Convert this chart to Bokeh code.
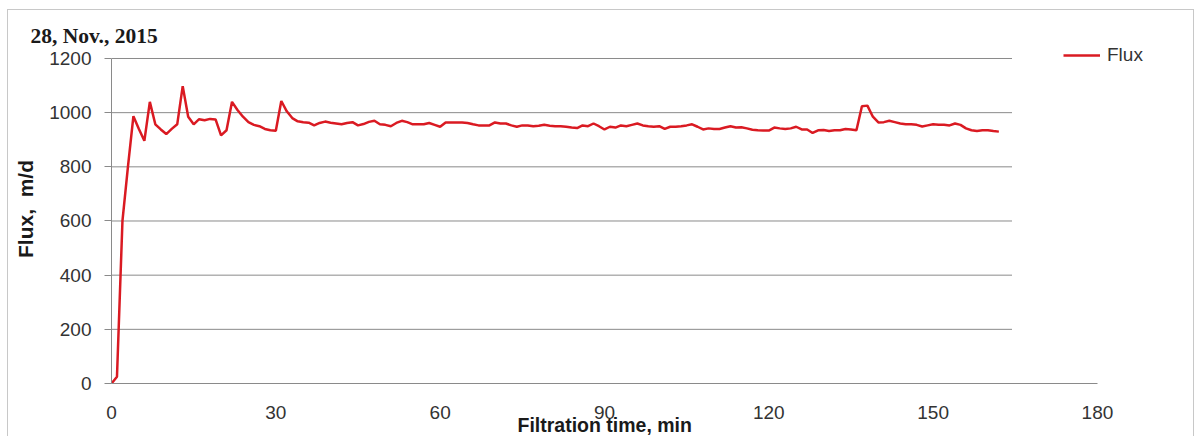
from bokeh.plotting import figure
from bokeh.models import Range1d, FixedTicker, Legend, LegendItem, Title, InlineStyleSheet
from bokeh.embed import file_html
from bokeh.resources import INLINE

# Filtration run of 28 Nov 2015: flux sampled once per minute
minutes = list(range(0, 163))
flux = [
    0, 25, 600, 800, 987, 940, 896, 1040, 957, 938,
    921, 940, 957, 1098, 985, 957, 976, 972, 977, 975,
    916, 935, 1040, 1010, 985, 965, 955, 950, 940, 935,
    933, 1043, 1005, 980, 968, 965, 963, 953, 962, 967,
    963, 960, 957, 962, 965, 953, 958, 966, 970, 957,
    955, 950, 962, 970, 965, 957, 957, 957, 962, 955,
    948, 964, 964, 964, 964, 962, 957, 953, 953, 953,
    964, 960, 960, 953, 948, 953, 953, 950, 952, 955,
    952, 950, 950, 948, 945, 943, 953, 950, 960, 950,
    938, 948, 945, 953, 950, 955, 960, 953, 950, 948,
    950, 940, 948, 948, 950, 953, 957, 948, 938, 942,
    940, 940, 945, 950, 945, 946, 942, 937, 935, 934,
    934, 945, 942, 940, 942, 948, 938, 938, 925, 935,
    936, 932, 935, 935, 940, 938, 935, 1024, 1026, 985,
    964, 965, 970, 965, 960, 957, 957, 955, 949, 953,
    957, 955, 955, 953, 960, 955, 942, 935, 932, 935,
    935, 932, 930,
]
x_ticks = [0, 30, 60, 90, 120, 150, 180]
y_ticks = [0, 200, 400, 600, 800, 1000, 1200]
chart_title = "28, Nov., 2015"
series_name = "Flux"
x_title = "Filtration time, min"
y_title = "Flux,\u00a0 m/d"

AXIS_GRAY = "#8a8a8a"
TEXT = "#333333"
DARK = "#1a1a1a"
RED = "#DA1A22"
SANS = "Liberation Sans"

# axes stop at these limits; the plotting frame runs a little further so the
# legend can sit to the upper right of the data area
X_AXIS_END = 180
Y_AXIS_END = 1200
x_view_end = 197.9
y_view_end = 1288.6

# thin frame around the whole chart area (open at the bottom edge)
chart_border = InlineStyleSheet(css="""
:host::after {
  content: "";
  position: absolute;
  left: 7px; top: 9px; width: 1187px; height: 427px;
  border: 1px solid #c8c8c8; border-bottom: none;
  pointer-events: none; box-sizing: border-box;
}
""")

p = figure(
    width=1202, height=436,
    output_backend="svg", toolbar_location=None,
    x_range=Range1d(0, x_view_end), y_range=Range1d(0, y_view_end),
    min_border_left=111, min_border_right=7,
    min_border_top=34, min_border_bottom=53,
    stylesheets=[chart_border],
)
p.outline_line_color = None
p.background_fill_color = "white"
p.border_fill_color = "white"
p.xgrid.visible = False
p.ygrid.visible = False

# horizontal gridlines stop short of the legend column
grid_y = y_ticks[1:]
p.segment(x0=[0] * len(grid_y), x1=[164.4] * len(grid_y), y0=grid_y, y1=grid_y,
          line_color=AXIS_GRAY, line_width=1)

line = p.line(minutes, flux, line_color=RED, line_width=2.5)

# x axis
p.xaxis.bounds = (0, X_AXIS_END)
p.xaxis.ticker = FixedTicker(ticks=x_ticks)
p.xaxis.axis_line_color = AXIS_GRAY
p.xaxis.major_tick_line_color = None
p.xaxis.minor_tick_line_color = None
p.xaxis.major_tick_out = 0
p.xaxis.major_tick_in = 0
p.xaxis.major_label_standoff = 22
p.xaxis.major_label_text_font = SANS
p.xaxis.major_label_text_font_size = "19px"
p.xaxis.major_label_text_color = TEXT

# y axis
p.yaxis.bounds = (0, Y_AXIS_END)
p.yaxis.ticker = FixedTicker(ticks=y_ticks)
p.yaxis.axis_line_color = AXIS_GRAY
p.yaxis.major_tick_line_color = AXIS_GRAY
p.yaxis.minor_tick_line_color = None
p.yaxis.major_tick_out = 7
p.yaxis.major_tick_in = 0
p.yaxis.major_label_standoff = 13
p.yaxis.major_label_text_font = SANS
p.yaxis.major_label_text_font_size = "19px"
p.yaxis.major_label_text_color = TEXT
p.yaxis.axis_label = y_title
p.yaxis.axis_label_text_font = SANS
p.yaxis.axis_label_text_font_style = "bold"
p.yaxis.axis_label_text_font_size = "21px"
p.yaxis.axis_label_text_color = DARK
p.yaxis.axis_label_standoff = 9

# x axis title: centred under the 0-180 axis, tucked up against the tick labels
p.add_layout(Title(text=x_title, align="left", offset=406, standoff=-16,
                   vertical_align="top", text_font=SANS,
                   text_font_style="bold", text_font_size="19.5px",
                   text_color=DARK), "below")

# chart title in the top-left corner
p.add_layout(Title(text=chart_title, align="left", offset=-81, standoff=-27,
                   vertical_align="bottom", text_font="Liberation Serif",
                   text_font_style="bold", text_font_size="21.5px",
                   text_color=DARK), "above")

legend = Legend(items=[LegendItem(label=series_name, renderers=[line])],
                location=(952, 317), padding=0, margin=0,
                glyph_width=37, glyph_height=20, label_height=20,
                label_standoff=7, label_text_font=SANS,
                label_text_font_size="19px", label_text_color=TEXT,
                background_fill_alpha=0, border_line_alpha=0)
p.add_layout(legend)

open("out.html", "w").write(file_html(p, INLINE))
